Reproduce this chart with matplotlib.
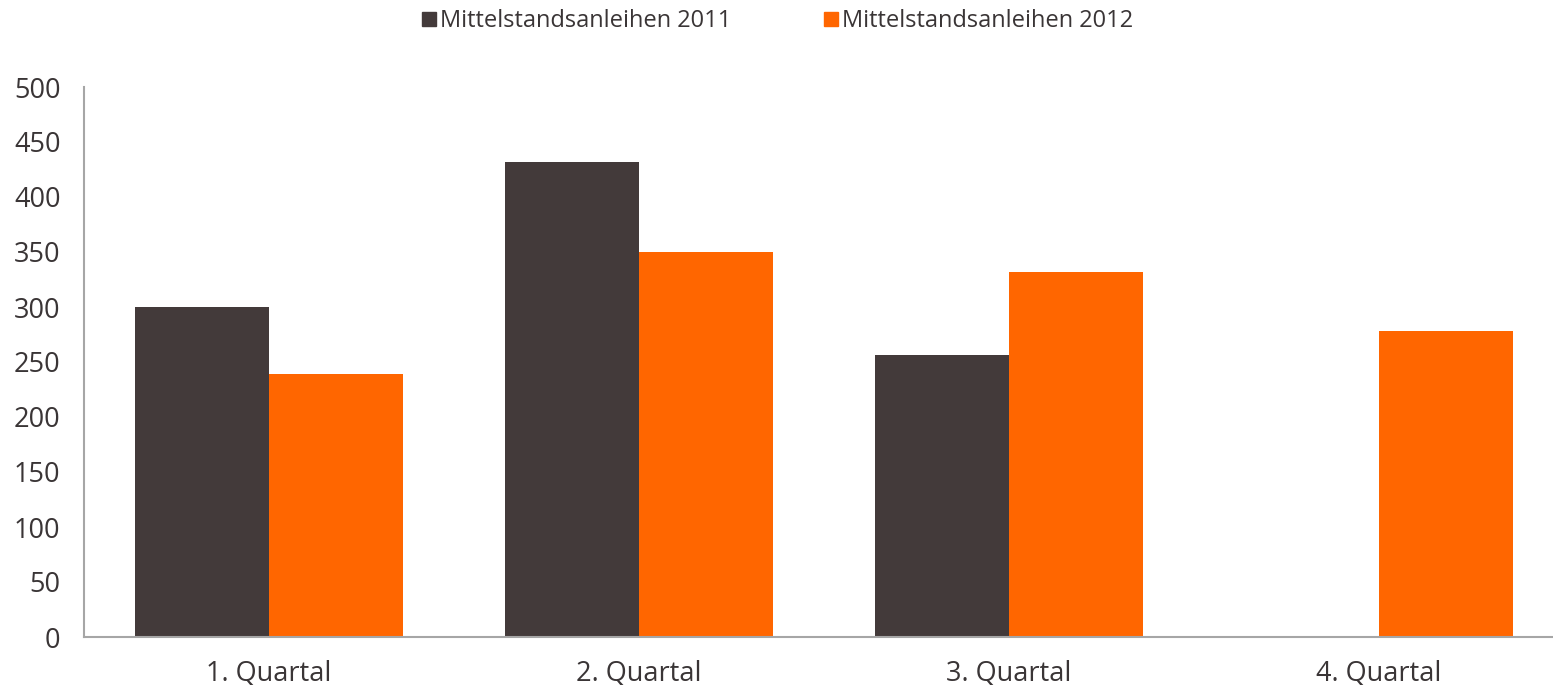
import matplotlib
matplotlib.use("Agg")
import matplotlib.pyplot as plt
import numpy as np
from matplotlib.lines import Line2D

categories = ["1. Quartal", "2. Quartal", "3. Quartal", "4. Quartal"]
series_names = ["Mittelstandsanleihen 2011", "Mittelstandsanleihen 2012"]
values_2011 = [300, 432, 256, 1]
values_2012 = [239, 350, 332, 278]
colors = ["#433a3a", "#ff6600"]
text_color = "#3a3536"

plt.rcParams['font.family'] = ['Open Sans', 'DejaVu Sans']

fig = plt.figure(figsize=(15.53, 6.85), dpi=100)
ax = fig.add_axes([84/1553, 48/685, 1 - 84/1553, (637-87)/685])

x = np.arange(len(categories))
w = 0.362
ax.bar(x - w/2, values_2011, width=w, color=colors[0], zorder=2)
ax.bar(x + w/2, values_2012, width=w, color=colors[1], zorder=2)

ax.set_xlim(-0.5, 3.5 - 11/370)
ax.set_ylim(0, 500)
ax.set_yticks(range(0, 501, 50))
ax.set_xticks(x)
ax.set_xticklabels(categories)
ax.tick_params(axis='both', length=0, labelsize=19.5, labelcolor=text_color)
ax.tick_params(axis='y', pad=17)
ax.tick_params(axis='x', pad=16)
for s in ["top", "right"]:
    ax.spines[s].set_visible(False)
for s in ["left", "bottom"]:
    ax.spines[s].set_color("#a6a6a6")
    ax.spines[s].set_linewidth(1.5)

handles = [Line2D([], [], marker='s', linestyle='none', markersize=10, color=c) for c in colors]
fig.legend(handles, series_names, loc='center', bbox_to_anchor=(777/1553, 1 - 21/685),
           ncol=2, frameon=False, fontsize=17, labelcolor=text_color,
           handletextpad=0.1, columnspacing=3.9, handlelength=0.7)

fig.savefig("out.png", dpi=100)
